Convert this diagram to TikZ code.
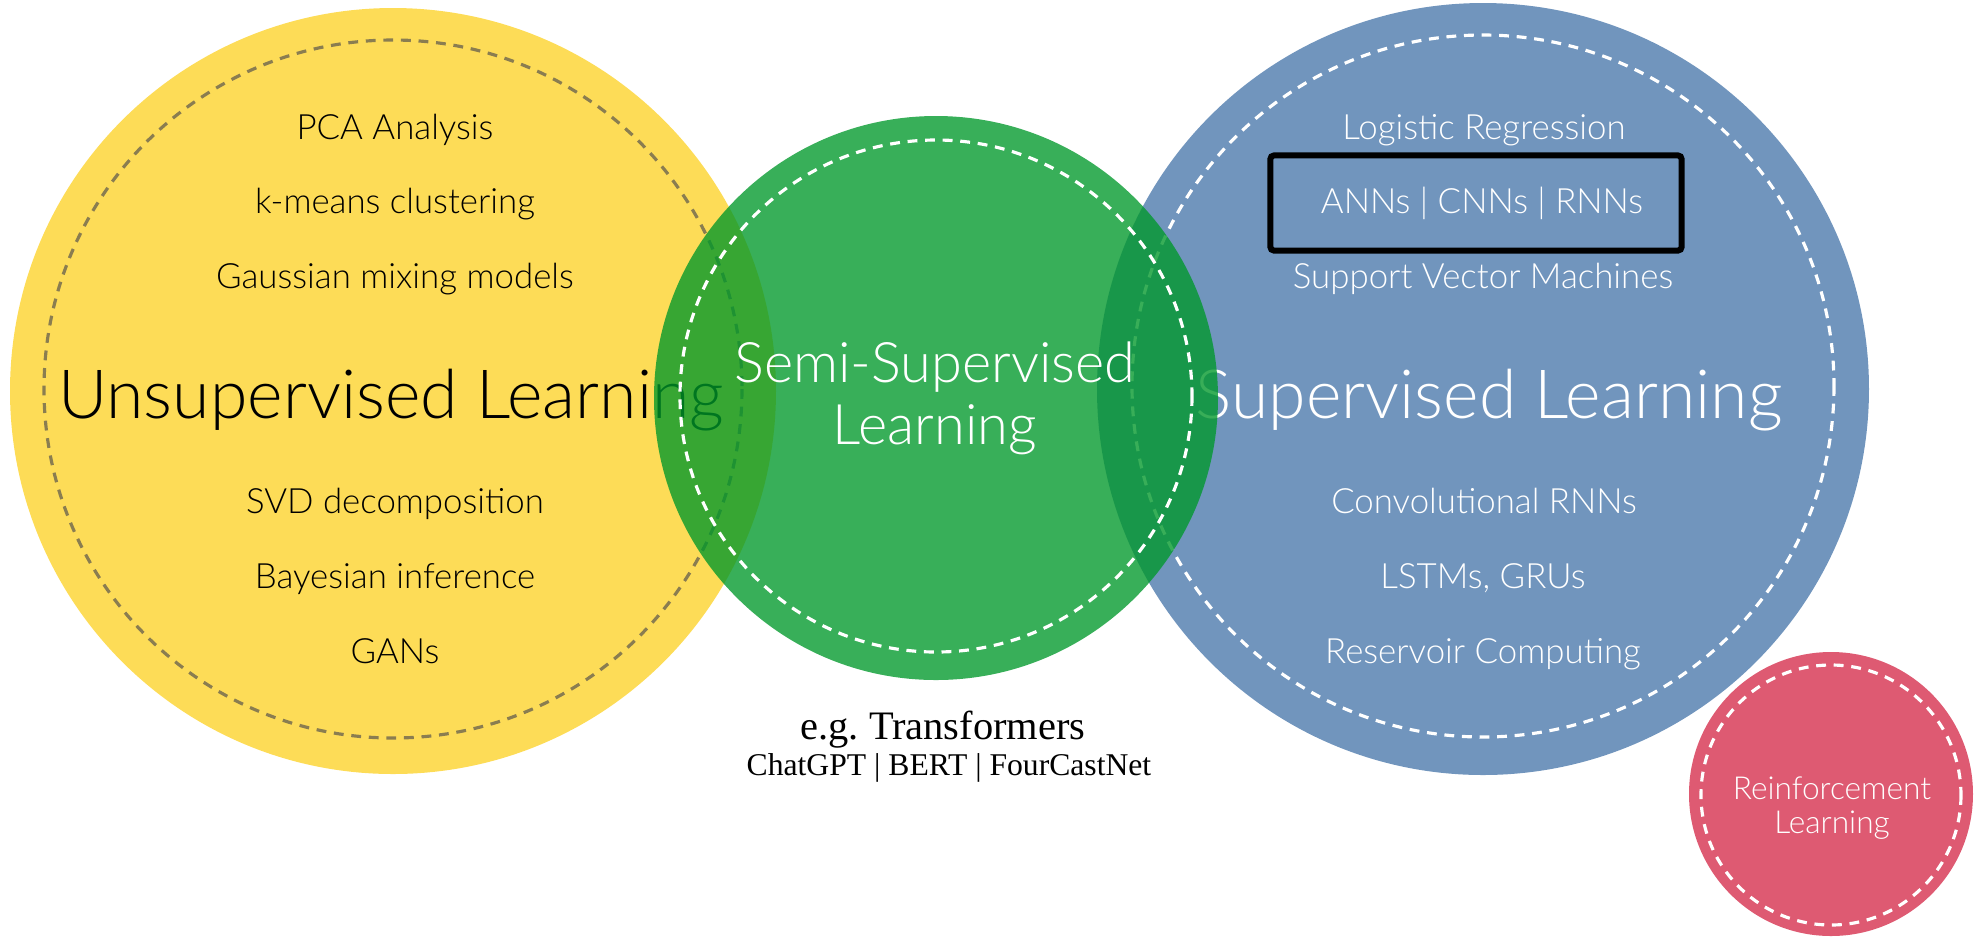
\documentclass[tikz,border=0pt]{standalone}
\usepackage{xcolor}
\usepackage{fontspec}
\setmainfont{Lato Light}
\newfontfamily\notefont{Liberation Serif}
\usepackage{tikz}
\usetikzlibrary{positioning}
\definecolor{UnsupYellow}{HTML}{FDDC57}
\definecolor{SemiGreen}{HTML}{00982A}
\definecolor{SupBlue}{HTML}{7195BD}
\definecolor{ReinfRed}{HTML}{DE5A72}
\definecolor{DashBrown}{HTML}{8A7D50}
\tikzset{
  ring/.style={dash pattern=on 2.8pt off 2.2pt, line width=0.9pt},
  item/.style={anchor=base, inner sep=0pt, font=\fontsize{9.9}{11}\selectfont},
  title/.style={anchor=base, inner sep=0pt, font=\fontsize{19.3}{22}\selectfont},
}

\begin{document}
\begin{tikzpicture}[x=0.01cm, y=-0.01cm]
      \useasboundingbox (0,0) rectangle (1974,941);
      % Unsupervised
      \fill[UnsupYellow] (393,391) circle (383);
      \draw[ring, DashBrown] (393,389) circle (349);
      \node[item] (pca) at (395,139) {PCA Analysis};
      \node[item] (kmeans) at (395,213) {k-means clustering};
      \node[item] (gmm) at (395,288) {Gaussian mixing models};
      \node[title] (unsup) at (391,418) {Unsupervised Learning};
      \node[item] (svd) at (395,513) {SVD decomposition};
      \node[item] (bayes) at (395,588) {Bayesian inference};
      \node[item] (gans) at (395,663) {GANs};
      % Supervised
      \fill[SupBlue] (1483,389) circle (386);
      \draw[ring, white] (1483,386) circle (351);
      \node[item, white] (logreg) at (1484,139) {Logistic Regression};
      \node[item, white] (nets) at (1482,213) {ANNs | CNNs | RNNs};
      \node[item, white] (svm) at (1483,288) {Support Vector Machines};
      \node[title, white] (sup) at (1489,418) {Supervised Learning};
      \node[item, white] (convrnn) at (1484,513) {Convolutional RNNs};
      \node[item, white] (lstm) at (1483,588) {LSTMs, GRUs};
      \node[item, white] (reservoir) at (1483,663) {Reservoir Computing};
      \node[draw, line width=1.7pt, rounded corners=1pt, minimum width=4.11cm, minimum height=0.95cm] (netbox) at (1476,203) {};
      % Semi-supervised, laid over both
      \fill[SemiGreen, fill opacity=0.78] (936,398) circle (282);
      \draw[ring, white] (936,396) circle (256);
      \node[anchor=base, inner sep=0pt, white, align=center, font=\fontsize{15.9}{17.4}\selectfont] (semi) at (935,444) {Semi-Supervised\\Learning};
      \node[anchor=base, inner sep=0pt, font=\notefont\fontsize{11.5}{13}\selectfont] (eg) at (943,739) {e.g.\ Transformers};
      \node[anchor=base, inner sep=0pt, font=\notefont\fontsize{9}{11}\selectfont] (models) at (949,775) {ChatGPT | BERT | FourCastNet};
      % Reinforcement
      \fill[ReinfRed] (1831,794) circle (142);
      \draw[ring, white] (1831,795) circle (130);
      \node[anchor=base, inner sep=0pt, white, align=center, font=\fontsize{9}{9.4}\selectfont] (reinf) at (1832,833) {Reinforcement\\Learning};
    \end{tikzpicture}
\end{document}
